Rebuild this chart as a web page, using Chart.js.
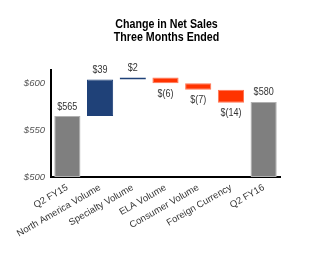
<!DOCTYPE html>
<html>
<head>
<meta charset="utf-8">
<script src="https://cdn.jsdelivr.net/npm/chart.js@4/dist/chart.umd.min.js"></script>
<style>
  html, body { margin: 0; padding: 0; background: #fff; }
  #wrap { width: 313px; height: 266px; }
</style>
</head>
<body>
<div id="wrap"><canvas id="chart" width="313" height="266"></canvas></div>
<script>
// values
const categories = ["Q2 FY15", "North America Volume", "Specialty Volume", "ELA Volume", "Consumer Volume", "Foreign Currency", "Q2 FY16"];
const startTotal = 565;
const changes = [39, 2, -6, -7, -14];
const endTotal = 580;
const valueLabels = ["$565", "$39", "$2", "$(6)", "$(7)", "$(14)", "$580"];
const yTicks = [500, 550, 600];
const titleLines = ["Change in Net Sales", "Three Months Ended"];

const FONT = "'Liberation Sans', Arial, sans-serif";
const NARROW = 0.82; // source uses a narrow face, squeeze drawn text

// floating bars: totals start at axis min, steps go from running total
const ranges = [];
const colors = [];
let run = startTotal;
ranges.push([500, startTotal]);
colors.push("#7f7f7f");
changes.forEach(c => {
    ranges.push([run, run + c]);
    colors.push(c >= 0 ? "#1f4178" : "#ff3300");
    run += c;
});
ranges.push([500, endTotal]);
colors.push("#7f7f7f");

const borderColors = colors.map(c => c === "#7f7f7f" ? "#b0b0b0" : (c === "#ff3300" ? "#ff7755" : "#1f4178"));

function narrowText(ctx, text, x, y) {
    ctx.save();
    ctx.translate(x, y);
    ctx.scale(NARROW, 1);
    ctx.fillText(text, 0, 0);
    ctx.restore();
}

const labelPlugin = {
    id: "valueLabels",
    afterDatasetsDraw(chart) {
        const ctx = chart.ctx;
        const meta = chart.getDatasetMeta(0);
        ctx.save();
        ctx.font = "11px " + FONT;
        ctx.fillStyle = "#333";
        ctx.textAlign = "center";
        meta.data.forEach((bar, i) => {
            const r = ranges[i];
            const up = r[1] >= r[0];
            const yTop = Math.min(bar.y, bar.base);
            const yBot = Math.max(bar.y, bar.base);
            if (up) {
                ctx.textBaseline = "bottom";
                narrowText(ctx, valueLabels[i], bar.x, yTop - 4);
            } else {
                ctx.textBaseline = "top";
                narrowText(ctx, valueLabels[i], bar.x, yBot + 5);
            }
        });
        // title
        ctx.font = "bold 13px " + FONT;
        ctx.fillStyle = "#000";
        ctx.textBaseline = "middle";
        const cx = (chart.chartArea.left + chart.chartArea.right) / 2 + 1;
        narrowText(ctx, titleLines[0], cx, 24);
        narrowText(ctx, titleLines[1], cx, 37);
        ctx.restore();
    }
};

new Chart(document.getElementById("chart"), {
    type: "bar",
    data: {
        labels: categories,
        datasets: [{
            data: ranges,
            backgroundColor: colors,
            borderColor: borderColors,
            borderWidth: 1,
            borderSkipped: false,
            barPercentage: 0.8,
            categoryPercentage: 1.0
        }]
    },
    options: {
        responsive: false,
        animation: false,
        layout: { padding: { left: 4, right: 33, top: 70, bottom: 0 } },
        plugins: {
            legend: { display: false },
            tooltip: { enabled: false },
            title: { display: false }
        },
        scales: {
            x: {
                grid: { display: false, drawTicks: false },
                border: { color: "#000", width: 2 },
                ticks: {
                    color: "#333",
                    font: { family: FONT, size: 9.5 },
                    minRotation: 30,
                    maxRotation: 30,
                    autoSkip: false,
                    padding: 5
                },
                afterFit(s) { s.height = 89; }
            },
            y: {
                min: 500,
                max: 614,
                grid: { display: false, drawTicks: false },
                border: { color: "#000", width: 2 },
                afterBuildTicks(s) { s.ticks = yTicks.map(v => ({ value: v })); },
                ticks: {
                    color: "#555",
                    font: { family: FONT, size: 9.5, style: "italic" },
                    padding: 6,
                    callback: v => "$" + v
                },
                afterFit(s) { s.width = 47; }
            }
        }
    },
    plugins: [labelPlugin]
});
</script>
</body>
</html>
